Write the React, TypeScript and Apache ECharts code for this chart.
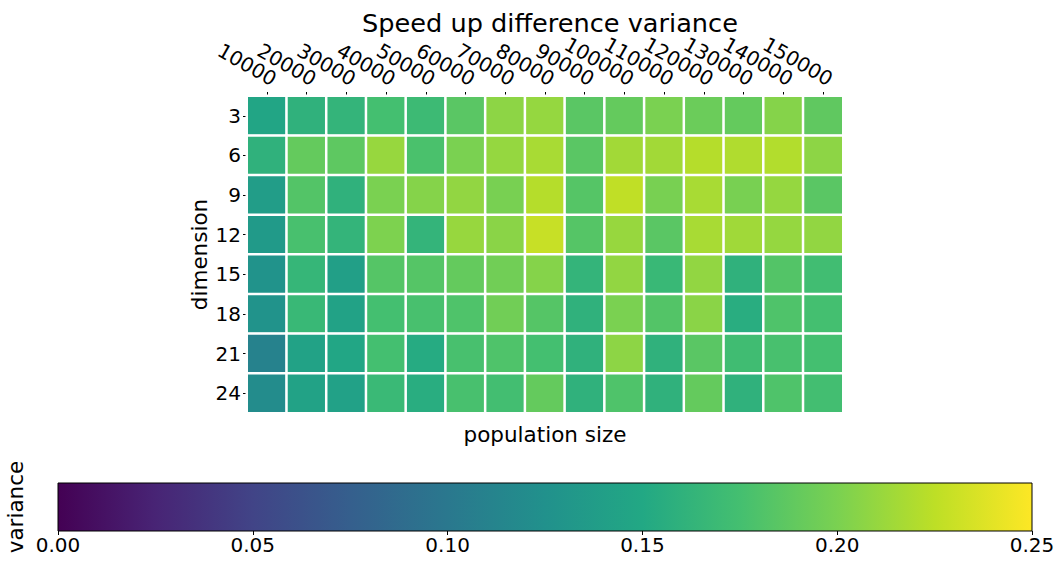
import React, { useEffect, useRef } from "react";
import * as echarts from "echarts";

const populationSizes = ["10000","20000","30000","40000","50000","60000","70000","80000","90000","100000","110000","120000","130000","140000","150000"];
const dimensions = ["3","6","9","12","15","18","21","24"];

const row3  = [0.147,0.160,0.163,0.175,0.170,0.185,0.207,0.210,0.185,0.190,0.200,0.193,0.190,0.204,0.188];
const row6  = [0.160,0.190,0.187,0.211,0.178,0.200,0.210,0.217,0.185,0.215,0.215,0.222,0.220,0.221,0.207];
const row9  = [0.138,0.182,0.160,0.200,0.204,0.209,0.199,0.222,0.183,0.226,0.199,0.217,0.199,0.210,0.185];
const row12 = [0.135,0.177,0.163,0.201,0.163,0.211,0.206,0.229,0.183,0.211,0.185,0.217,0.214,0.210,0.209];
const row15 = [0.127,0.165,0.140,0.183,0.183,0.190,0.196,0.204,0.163,0.209,0.167,0.209,0.160,0.182,0.173];
const row18 = [0.127,0.167,0.143,0.175,0.177,0.180,0.196,0.183,0.160,0.200,0.182,0.206,0.155,0.180,0.175];
const row21 = [0.110,0.143,0.148,0.175,0.153,0.177,0.180,0.175,0.160,0.207,0.160,0.185,0.172,0.177,0.175];
const row24 = [0.120,0.143,0.142,0.168,0.155,0.177,0.174,0.190,0.160,0.180,0.160,0.190,0.160,0.180,0.174];
const rows = [row3, row6, row9, row12, row15, row18, row21, row24];

const colorbarTicks = [0, 0.05, 0.1, 0.15, 0.2, 0.25];
const viridis = ["#440154","#482475","#414487","#355f8d","#2a788e","#21918c","#22a884","#44bf70","#7ad151","#bddf26","#fde725"];

const FONT = "DejaVu Sans";

export default function App() {
  const ref = useRef<HTMLDivElement>(null);
  useEffect(() => {
    if (!ref.current) return;
    const chart = echarts.init(ref.current, null, { renderer: "svg" });
    const data: [number, number, number][] = [];
    rows.forEach((r, yi) => r.forEach((v, xi) => data.push([xi, yi, v])));
    const gradient = new echarts.graphic.LinearGradient(0, 0, 1, 0,
      viridis.map((c, i) => ({ offset: i / (viridis.length - 1), color: c })));
    chart.setOption({
      animation: false,
      backgroundColor: "#ffffff",
      title: {
        text: "Speed up difference variance",
        left: 545, top: 5, textAlign: "center",
        textStyle: { fontFamily: FONT, fontSize: 25.6, fontWeight: "normal", color: "#000" },
      },
      grid: [
        { left: 247, top: 96, width: 596, height: 317, outerBoundsMode: "none", containLabel: false },
        { left: 58, top: 483, width: 974, height: 48, outerBoundsMode: "none", containLabel: false },
      ],
      xAxis: [
        {
          type: "category", gridIndex: 0, position: "top", data: populationSizes,
          axisLine: { show: false },
          axisTick: { show: true, length: 4, alignWithLabel: true, lineStyle: { color: "#000" } },
          axisLabel: { rotate: 30, fontSize: 20, fontFamily: FONT, color: "#000", margin: 20, interval: 0, hideOverlap: false, padding: [0, -9, 0, 0] },
          splitLine: { show: false },
        },
        {
          type: "category", gridIndex: 0, position: "bottom", data: populationSizes,
          axisLine: { show: false }, axisTick: { show: false }, axisLabel: { show: false },
          name: "population size", nameLocation: "middle", nameGap: 10, nameMoveOverlap: false,
          nameTextStyle: { fontSize: 21.5, fontFamily: FONT, color: "#000" },
        },
        {
          type: "value", gridIndex: 1, min: 0, max: 0.25, interval: 0.05,
          axisLine: { show: false },
          axisTick: { show: true, length: 4, lineStyle: { color: "#000" } },
          axisLabel: { fontSize: 20, fontFamily: FONT, color: "#000", margin: 4, formatter: (v: number) => v.toFixed(2) },
          splitLine: { show: false },
        },
      ],
      yAxis: [
        {
          type: "category", gridIndex: 0, data: dimensions, inverse: true,
          axisLine: { show: false },
          axisTick: { show: true, length: 4, alignWithLabel: true, lineStyle: { color: "#000" } },
          axisLabel: { fontSize: 20, fontFamily: FONT, color: "#000", margin: 6 },
          name: "dimension", nameLocation: "middle", nameGap: 37, nameMoveOverlap: false,
          nameTextStyle: { fontSize: 21.5, fontFamily: FONT, color: "#000" },
        },
        {
          type: "value", gridIndex: 1, min: 0, max: 1,
          axisLine: { show: false }, axisTick: { show: false }, axisLabel: { show: false },
          splitLine: { show: false },
          name: "variance", nameLocation: "middle", nameGap: 32, nameMoveOverlap: false,
          nameTextStyle: { fontSize: 21.5, fontFamily: FONT, color: "#000" },
        },
      ],
      visualMap: {
        show: false, min: 0, max: 0.25, seriesIndex: 0, dimension: 2,
        inRange: { color: viridis },
      },
      series: [
        {
          type: "heatmap", xAxisIndex: 0, yAxisIndex: 0, data,
          itemStyle: { borderColor: "#ffffff", borderWidth: 2.5 },
          emphasis: { disabled: true },
        },
        {
          type: "line", xAxisIndex: 2, yAxisIndex: 1, data: [], silent: true,
          markArea: {
            silent: true,
            itemStyle: { color: gradient, borderColor: "#000", borderWidth: 1, opacity: 1 },
            data: [[{ xAxis: colorbarTicks[0], yAxis: 0 }, { xAxis: colorbarTicks[colorbarTicks.length - 1], yAxis: 1 }]],
          },
        },
      ],
    });
    return () => chart.dispose();
  }, []);
  return <div ref={ref} style={{ width: 1057, height: 561, position: "absolute", left: 0, top: 0 }} />;
}
